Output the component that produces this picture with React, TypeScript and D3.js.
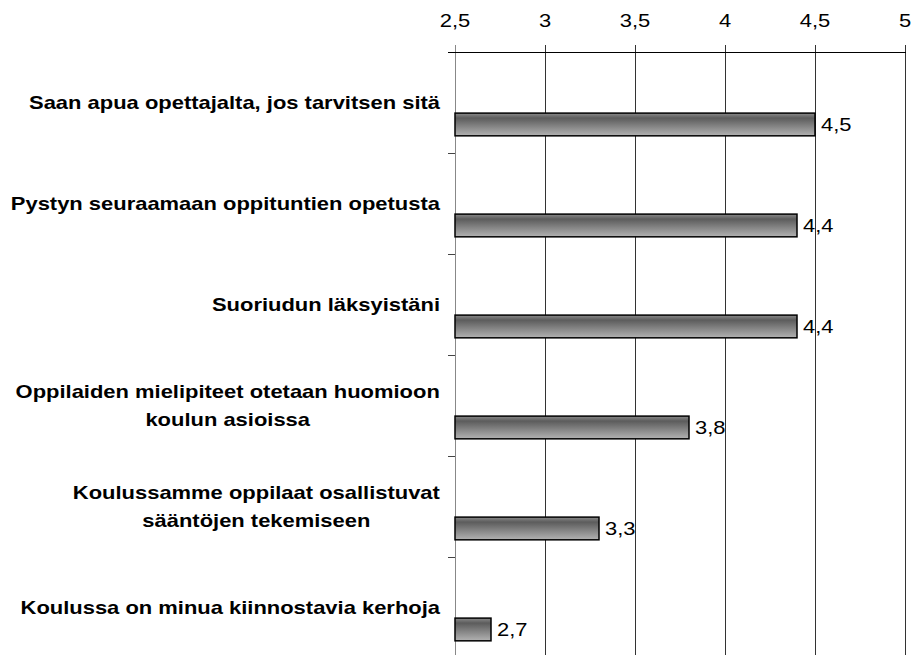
import React from "react";
import * as d3 from "d3";

const categories: string[][] = [
  ["Saan apua opettajalta, jos tarvitsen sitä"],
  ["Pystyn seuraamaan oppituntien opetusta"],
  ["Suoriudun läksyistäni"],
  ["Oppilaiden mielipiteet otetaan huomioon", "koulun asioissa"],
  ["Koulussamme oppilaat osallistuvat", "sääntöjen tekemiseen"],
  ["Koulussa on minua kiinnostavia kerhoja"],
];
const values: number[] = [4.5, 4.4, 4.4, 3.8, 3.3, 2.7];
const xTicks: number[] = [2.5, 3, 3.5, 4, 4.5, 5];

const W = 914;
const H = 655;
const SX = 1.22;
const labelFont = "bold 18px 'Liberation Sans', Arial, sans-serif";
const tickFont = "18px 'Liberation Sans', Arial, sans-serif";

let ctx: CanvasRenderingContext2D | null = null;
function measure(text: string, font: string): number {
  if (!ctx) {
    const c = document.createElement("canvas");
    ctx = c.getContext("2d");
  }
  if (!ctx) return text.length * 10;
  ctx.font = font;
  return ctx.measureText(text).width;
}

const fmt = (v: number) => String(v).replace(".", ",");

function SText(props: {
  x: number;
  y: number;
  anchor: "start" | "middle" | "end";
  font: string;
  children: React.ReactNode;
}) {
  return (
    <text
      transform={`translate(${props.x},${props.y}) scale(${SX},1)`}
      x={0}
      y={0}
      textAnchor={props.anchor}
      style={{ font: props.font }}
      fill="#000"
    >
      {props.children}
    </text>
  );
}

export default function App() {
  const x = d3.scaleLinear().domain([2.5, 5]).range([455, 905]);
  const y = d3
    .scaleBand<number>()
    .domain(categories.map((_, i) => i))
    .range([52, 658])
    .paddingInner(0);
  const bw = y.bandwidth();
  const labelRight = 440;
  const lineH = 28;

  return (
    <div style={{ position: "absolute", left: 0, top: 0 }}>
      <svg width={W} height={H} style={{ display: "block", background: "#fff" }}>
        <defs>
          <linearGradient id="barGrad" x1="0" y1="0" x2="0" y2="1">
            <stop offset="0%" stopColor="#8a8a8a" />
            <stop offset="22%" stopColor="#5c5c5c" />
            <stop offset="100%" stopColor="#b2b2b2" />
          </linearGradient>
        </defs>
        {/* gridlines */}
        {xTicks.map((t) => (
          <line
            key={"g" + t}
            x1={Math.round(x(t)) + 0.5}
            x2={Math.round(x(t)) + 0.5}
            y1={45}
            y2={H}
            stroke={t === 2.5 ? "#888" : "#333"}
            strokeWidth={1}
          />
        ))}
        {/* top axis line */}
        <line x1={448} x2={906} y1={52.5} y2={52.5} stroke="#000" strokeWidth={1} />
        {/* tick labels */}
        {xTicks.map((t) => (
          <SText key={"t" + t} x={x(t)} y={27} anchor="middle" font={tickFont}>
            {fmt(t)}
          </SText>
        ))}
        {/* category ticks */}
        {categories.slice(1).map((_, i) => (
          <line
            key={"ct" + i}
            x1={448}
            x2={455}
            y1={Math.round(y(i + 1) as number) + 0.5}
            y2={Math.round(y(i + 1) as number) + 0.5}
            stroke="#444"
          />
        ))}
        {/* bars */}
        {values.map((v, i) => {
          const top = (y(i) as number) + bw * 0.605;
          const h = bw * 0.225;
          return (
            <g key={"b" + i}>
              <rect
                x={x(2.5)}
                y={top}
                width={x(v) - x(2.5)}
                height={h}
                fill="url(#barGrad)"
                stroke="#000"
                strokeWidth={1.5}
              />
              <SText x={x(v) + 6} y={top + h / 2 + 7} anchor="start" font={tickFont}>
                {fmt(v)}
              </SText>
            </g>
          );
        })}
        {/* category labels */}
        {categories.map((lines, i) => {
          const cy = (y(i) as number) + bw / 2;
          const n = lines.length;
          const maxW = Math.max(...lines.map((l) => measure(l, labelFont))) * SX;
          return (
            <g key={"l" + i}>
              {lines.map((l, j) => {
                const ly = cy + 6.5 + (j - (n - 1) / 2) * lineH;
                return n === 1 ? (
                  <SText key={j} x={labelRight} y={ly} anchor="end" font={labelFont}>
                    {l}
                  </SText>
                ) : (
                  <SText
                    key={j}
                    x={labelRight - maxW / 2}
                    y={ly}
                    anchor="middle"
                    font={labelFont}
                  >
                    {l}
                  </SText>
                );
              })}
            </g>
          );
        })}
      </svg>
    </div>
  );
}
